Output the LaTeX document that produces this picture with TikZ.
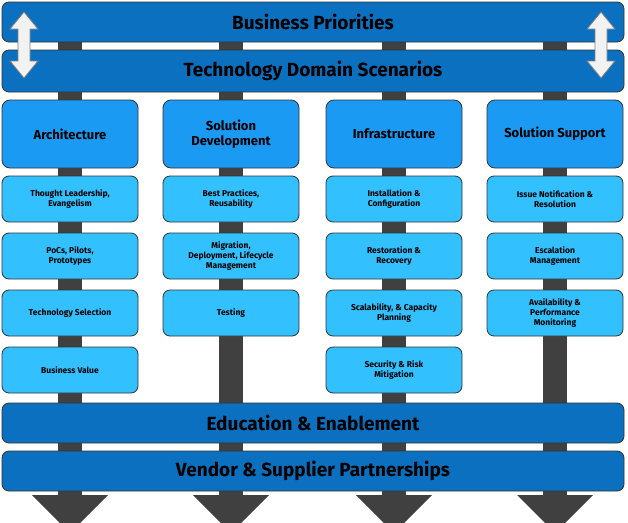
\documentclass[tikz,border=0pt]{standalone}
\usepackage{fontspec}
\setmainfont{Fira Sans}
\begin{document}
\begin{tikzpicture}[x=1pt,y=-1pt,
  bar/.style={draw=black!80,line width=0.8pt,rounded corners=7pt,fill=barblue,minimum width=622pt,font=\bfseries\fontsize{19}{21}\selectfont},
  head/.style={draw=black!80,line width=0.8pt,rounded corners=8pt,fill=headblue,minimum width=136pt,minimum height=68pt,align=center,font=\bfseries\fontsize{13}{15}\selectfont},
  item/.style={draw=black!80,line width=0.8pt,rounded corners=7pt,fill=itemblue,minimum width=136pt,minimum height=46pt,align=center,font=\bfseries\fontsize{8.5}{10}\selectfont},
  post/.style={fill=black!75},
  dbl/.style={draw=black!50,fill=black!5,line width=0.8pt}]
\definecolor{barblue}{HTML}{0B70BF}
\definecolor{headblue}{HTML}{1A9AF2}
\definecolor{itemblue}{HTML}{33C0FF}
\useasboundingbox (0,0) rectangle (628,522);
\clip (0,0) rectangle (628,522);
% posts and arrows
\foreach \cx in {70,231,394,555}{
  \fill[post] (\cx-12,40) rectangle (\cx+12,500);
  \fill[post] (\cx-38,495) -- (\cx+38,495) -- (\cx,533) -- cycle;
}
\node[bar,minimum height=40pt] (bp) at (313,22) {Business Priorities};
\node[bar,minimum height=42pt] (td) at (313,71) {Technology Domain Scenarios};
\foreach \cx/\nm in {24/la,601/ra}{
  \draw[dbl] (\cx,12) -- (\cx+14,29) -- (\cx+6,29) -- (\cx+6,61) -- (\cx+14,61) -- (\cx,78) -- (\cx-14,61) -- (\cx-6,61) -- (\cx-6,29) -- (\cx-14,29) -- cycle;
}
\node[head] (h1) at (70,134) {Architecture};
\node[head] (h2) at (231,134) {Solution\\Development};
\node[head] (h3) at (394,134) {Infrastructure};
\node[head] (h4) at (555,134) {Solution Support};
\node[item] (a1) at (70,199) {Thought Leadership,\\Evangelism};
\node[item] (a2) at (70,256) {PoCs, Pilots,\\Prototypes};
\node[item] (a3) at (70,313) {Technology Selection};
\node[item] (a4) at (70,370) {Business Value};
\node[item] (b1) at (231,199) {Best Practices,\\Reusability};
\node[item] (b2) at (231,256) {Migration,\\Deployment, Lifecycle\\Management};
\node[item] (b3) at (231,313) {Testing};
\node[item] (c1) at (394,199) {Installation \&\\Configuration};
\node[item] (c2) at (394,256) {Restoration \&\\Recovery};
\node[item] (c3) at (394,313) {Scalability, \& Capacity\\Planning};
\node[item] (c4) at (394,370) {Security \& Risk\\Mitigation};
\node[item] (d1) at (555,199) {Issue Notification \&\\Resolution};
\node[item] (d2) at (555,256) {Escalation\\Management};
\node[item] (d3) at (555,313) {Availability \&\\Performance\\Monitoring};
\node[bar,minimum height=40pt] (ee) at (313,423) {Education \& Enablement};
\node[bar,minimum height=40pt] (vs) at (313,471) {Vendor \& Supplier Partnerships};
\end{tikzpicture}
\end{document}
